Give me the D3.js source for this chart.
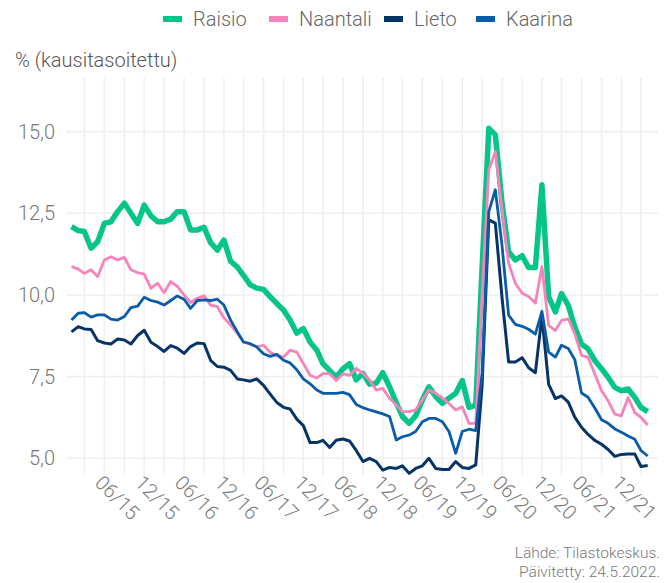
<!DOCTYPE html>
<html>
<head>
<meta charset="utf-8">
<script src="https://cdn.jsdelivr.net/npm/d3@7"></script>
<style>
  body { margin: 0; background: #fff; }
  svg { font-family: Roboto, "Noto Sans", sans-serif; font-weight: 300; }
</style>
</head>
<body>
<svg width="669" height="583"></svg>
<script>
// kuukaudet 1/2015 - 4/2022
const months = d3.utcMonths(new Date(Date.UTC(2015, 0, 1)), new Date(Date.UTC(2022, 4, 1)));

const raisio = [
  12.09, 11.97, 11.94, 11.43, 11.63, 12.19, 12.24, 12.55, 12.81, 12.5,
  12.19, 12.75, 12.42, 12.24, 12.24, 12.32, 12.55, 12.55, 11.99, 11.99,
  12.07, 11.6, 11.37, 11.68, 11.03, 10.85, 10.6, 10.31, 10.21, 10.17,
  9.95, 9.74, 9.54, 9.23, 8.83, 8.97, 8.56, 8.31, 7.9, 7.69,
  7.48, 7.74, 7.9, 7.4, 7.6, 7.27, 7.3, 7.62, 7.19, 6.7,
  6.28, 6.07, 6.3, 6.79, 7.19, 6.89, 6.68, 6.84, 6.99, 7.38,
  6.56, 6.62, 10.8, 15.1, 14.9, 12.8, 11.32, 11.07, 11.2, 10.84,
  10.84, 13.37, 9.94, 9.48, 10.04, 9.68, 9.02, 8.5, 8.35, 7.99,
  7.74, 7.48, 7.17, 7.07, 7.12, 6.86, 6.56, 6.43
];
const naantali = [
  10.87, 10.79, 10.66, 10.77, 10.56, 11.07, 11.17, 11.07, 11.15, 10.77,
  10.68, 10.64, 10.2, 10.36, 10.07, 10.41, 10.26, 10.0, 9.77, 9.9,
  9.97, 9.69, 9.64, 9.3, 9.08, 8.82, 8.56, 8.49, 8.41, 8.46,
  8.25, 8.15, 8.1, 8.31, 8.25, 7.9, 7.54, 7.46, 7.59, 7.59,
  7.38, 7.59, 7.54, 7.75, 7.6, 7.4, 7.09, 7.14, 6.84, 6.63,
  6.43, 6.43, 6.48, 6.79, 7.09, 6.99, 6.84, 6.68, 6.48, 6.58,
  6.07, 6.07, 10.0, 13.83, 14.39, 12.6, 10.97, 10.36, 10.05, 9.95,
  9.75, 10.87, 9.07, 8.91, 9.22, 9.27, 8.81, 8.15, 8.09, 7.58,
  7.07, 6.76, 6.35, 6.3, 6.86, 6.4, 6.25, 6.02
];
const lieto = [
  8.87, 9.03, 8.96, 8.94, 8.6, 8.53, 8.5, 8.65, 8.62, 8.5,
  8.76, 8.92, 8.55, 8.42, 8.27, 8.45, 8.37, 8.21, 8.42, 8.53,
  8.51, 8.0, 7.81, 7.79, 7.69, 7.43, 7.4, 7.36, 7.43, 7.23,
  6.97, 6.71, 6.56, 6.51, 6.2, 6.0, 5.48, 5.48, 5.55, 5.33,
  5.55, 5.59, 5.53, 5.24, 4.9, 5.0, 4.9, 4.64, 4.72, 4.69,
  4.77, 4.54, 4.69, 4.77, 5.0, 4.69, 4.66, 4.66, 4.9, 4.72,
  4.69, 4.8, 7.2, 12.3, 12.2, 9.9, 7.95, 7.95, 8.08, 7.77,
  7.62, 9.35, 7.26, 6.83, 6.91, 6.72, 6.26, 5.95, 5.73, 5.55,
  5.43, 5.27, 5.06, 5.12, 5.13, 5.13, 4.75, 4.78
];
const kaarina = [
  9.23, 9.44, 9.46, 9.32, 9.39, 9.39, 9.26, 9.23, 9.34, 9.61,
  9.66, 9.93, 9.83, 9.78, 9.69, 9.83, 9.97, 9.87, 9.59, 9.83,
  9.85, 9.83, 9.87, 9.69, 9.23, 8.87, 8.56, 8.51, 8.41, 8.2,
  8.12, 8.18, 8.0, 7.92, 7.71, 7.43, 7.28, 7.09, 6.99, 6.99,
  6.99, 7.02, 6.95, 6.65, 6.55, 6.48, 6.42, 6.36, 6.28, 5.56,
  5.66, 5.71, 5.82, 6.12, 6.22, 6.22, 6.12, 5.82, 5.15, 5.82,
  5.89, 5.85, 7.6, 12.55, 13.22, 11.5, 9.38, 9.1, 9.04, 8.95,
  8.8, 9.5, 8.25, 8.1, 8.46, 8.36, 8.02, 7.0, 6.87, 6.54,
  6.18, 6.07, 5.9, 5.8, 5.68, 5.58, 5.24, 5.07
];

const seriesNames = ["Raisio", "Naantali", "Lieto", "Kaarina"];
const seriesColors = ["#07c588", "#f783bd", "#073466", "#0b5ca8"];
const seriesWidths = [5.5, 2.8, 3, 2.8];
const seriesValues = [raisio, naantali, lieto, kaarina];

const yTicks = [5, 7.5, 10, 12.5, 15];
const xTicks = ["2015-06", "2015-12", "2016-06", "2016-12", "2017-06", "2017-12", "2018-06",
  "2018-12", "2019-06", "2019-12", "2020-06", "2020-12", "2021-06", "2021-12"];

const parseMonth = d3.utcParse("%Y-%m");
const svg = d3.select("svg");

const panel = {left: 66, right: 658, top: 78, bottom: 475};

const x = d3.scaleUtc()
  .domain([months[0], months[months.length - 1]])
  .range([71.5, 647.7]);

const y = d3.scaleLinear()
  .domain([5, 15])
  .range([458.3, 131.6]);

// ruudukko: neljännesvuosittain
const gridDates = d3.range(0, 29).map(k => new Date(Date.UTC(2015, 2 + 3 * k, 1)));

svg.append("g")
  .selectAll("line")
  .data(gridDates)
  .join("line")
  .attr("x1", d => x(d)).attr("x2", d => x(d))
  .attr("y1", panel.top).attr("y2", panel.bottom)
  .attr("stroke", "#efefef")
  .attr("stroke-width", 1.6);

svg.append("g")
  .selectAll("line")
  .data(yTicks)
  .join("line")
  .attr("x1", panel.left).attr("x2", panel.right)
  .attr("y1", d => y(d)).attr("y2", d => y(d))
  .attr("stroke", "#efefef")
  .attr("stroke-width", 1.6);

// y-akseli
const yAxis = svg.append("g")
  .attr("transform", `translate(${panel.left},0)`)
  .call(d3.axisLeft(y)
    .tickValues(yTicks)
    .tickSize(0)
    .tickPadding(11)
    .tickFormat(d => d3.format(".1f")(d).replace(".", ",")));
yAxis.select(".domain").remove();
yAxis.selectAll("text")
  .attr("font-family", "Roboto, sans-serif")
  .attr("font-weight", 300)
  .attr("font-size", 20)
  .attr("fill", "#777");

// x-akseli
const xAxis = svg.append("g")
  .attr("transform", `translate(0,${panel.bottom})`)
  .call(d3.axisBottom(x)
    .tickValues(xTicks.map(parseMonth))
    .tickSize(0)
    .tickFormat(d3.utcFormat("%m/%y")));
xAxis.select(".domain").remove();
xAxis.selectAll("text")
  .attr("font-family", "Roboto, sans-serif")
  .attr("font-weight", 300)
  .attr("font-size", 20)
  .attr("fill", "#7a7a7a")
  .attr("text-anchor", "start")
  .attr("y", 0).attr("dy", 0)
  .attr("transform", "translate(-11,9) rotate(45)");

// viivat
const line = d3.line()
  .x((d, i) => x(months[i]))
  .y(d => y(d));

svg.append("g")
  .selectAll("path")
  .data(seriesValues)
  .join("path")
  .attr("d", d => line(d))
  .attr("fill", "none")
  .attr("stroke", (d, i) => seriesColors[i])
  .attr("stroke-width", (d, i) => seriesWidths[i])
  .attr("stroke-linejoin", "round");

// selite
const legendX = [163, 269, 384, 476];
const legend = svg.append("g")
  .selectAll("g")
  .data(seriesNames)
  .join("g")
  .attr("transform", (d, i) => `translate(${legendX[i]},0)`);
legend.append("rect")
  .attr("x", 0).attr("y", 16)
  .attr("width", 19).attr("height", 6)
  .attr("fill", (d, i) => seriesColors[i]);
legend.append("text")
  .attr("x", 30).attr("y", 26)
  .attr("font-size", 20)
  .attr("fill", "#666")
  .text(d => d);

svg.append("text")
  .attr("x", 15).attr("y", 67)
  .attr("font-size", 20)
  .attr("fill", "#555")
  .text("% (kausitasoitettu)");

const caption = ["Lähde: Tilastokeskus.", "Päivitetty: 24.5.2022."];
svg.append("g")
  .selectAll("text")
  .data(caption)
  .join("text")
  .attr("x", 660)
  .attr("y", (d, i) => 558 + i * 19)
  .attr("text-anchor", "end")
  .attr("font-size", 15.5)
  .attr("fill", "#777")
  .text(d => d);
</script>
</body>
</html>
